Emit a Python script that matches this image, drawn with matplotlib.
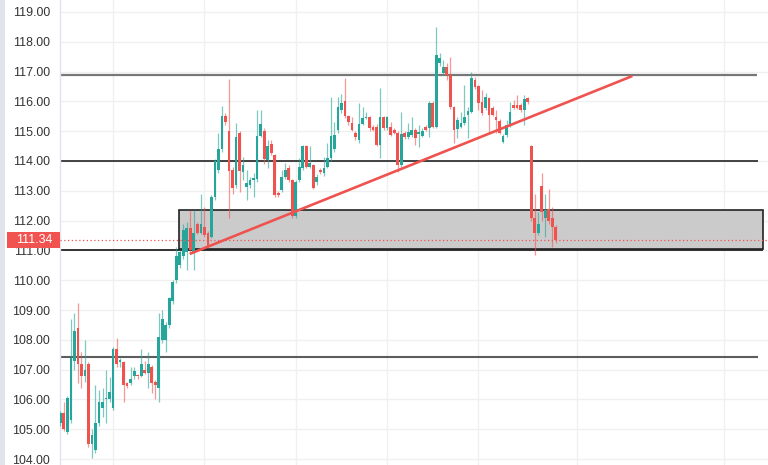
import matplotlib
matplotlib.use("Agg")
import matplotlib.pyplot as plt
from matplotlib.patches import Rectangle
from matplotlib.transforms import blended_transform_factory
import numpy as np

# ---- data (OHLC) ----
opens = [105.2,105.55,104.9,105.3,107.3,108.4,107.2,106.8,107.2,104.5,104.3,105.2,105.7,106.0,106.0,105.7,107.7,107.26,107.25,106.55,
         106.55,106.8,106.82,106.8,107.0,106.9,107.1,106.6,106.4,108.0,108.0,108.5,109.3,110.0,110.5,110.8,110.95,111.75,110.95,111.9,
         111.6,111.8,111.6,111.45,112.8,113.7,114.4,115.5,115.0,113.7,113.2,114.95,113.63,113.13,113.2,113.36,113.4,114.85,115.0,114.03,
         114.57,114.2,112.93,113.03,113.46,113.76,113.35,112.15,113.35,113.75,114.5,113.8,113.85,113.3,113.7,113.6,113.8,114.1,114.4,115.05,
         115.7,116.0,115.5,115.27,114.95,114.7,115.25,115.44,115.47,115.14,115.15,114.55,115.47,115.1,115.14,115.04,114.95,113.85,114.94,114.8,
         114.87,115.04,114.9,114.85,115.14,115.1,115.95,115.15,117.29,116.95,117.15,116.9,115.8,115.07,115.14,115.27,115.54,115.65,116.72,116.5,
         115.98,115.78,116.11,115.78,115.47,115.35,114.65,114.87,115.2,115.88,115.88,115.88,115.71,116.11,
         114.5,112.1,111.6,113.15,112.1,112.4,112.1,111.8]
highs = [105.6,105.9,106.1,108.7,108.9,109.25,107.6,108.0,107.25,105.0,106.5,106.3,106.4,107.0,106.75,107.75,108.05,107.4,107.3,106.6,
         107.1,107.1,106.85,107.7,107.3,107.6,107.15,106.65,108.9,109.0,108.6,109.45,110.0,111.1,111.0,111.9,111.95,112.35,112.35,111.95,
         112.9,112.45,111.65,112.86,114.05,114.94,115.85,115.6,116.75,113.8,115.27,115.0,114.13,113.7,113.45,113.6,115.71,115.7,115.1,114.7,
         114.7,114.25,113.0,113.7,113.93,113.87,113.4,113.35,114.1,114.55,114.55,114.5,113.9,113.55,113.75,114.13,114.6,116.15,115.3,116.15,
         116.25,116.8,115.55,115.47,115.0,115.95,115.8,115.64,115.5,115.2,115.25,116.45,115.5,115.5,115.3,115.1,115.0,115.65,115.0,115.27,
         115.47,115.1,115.2,115.1,115.2,116.0,116.0,118.5,117.62,117.39,117.29,117.5,115.85,115.48,115.64,116.55,115.81,116.99,116.82,116.55,
         116.38,116.28,116.15,115.85,115.71,115.4,114.9,115.38,115.98,116.05,116.21,115.95,116.21,116.15,
         114.55,112.9,112.3,113.6,112.9,113.06,112.46,111.85]
lows = [105.1,104.95,104.85,105.2,107.0,106.55,106.4,106.6,104.4,104.05,104.2,105.1,105.4,105.2,105.9,105.65,107.1,107.1,105.9,106.4,
        106.5,106.7,106.7,106.75,106.85,106.4,106.2,106.0,105.9,107.9,107.6,108.4,109.2,109.9,110.4,110.7,110.35,110.95,110.35,111.55,
        111.55,111.45,111.08,111.4,112.7,113.6,114.3,115.2,112.1,112.9,113.1,112.95,113.36,112.7,113.1,112.8,113.3,114.8,113.9,113.77,
        114.2,112.8,112.8,112.95,113.4,113.3,112.1,112.1,113.3,113.7,113.75,113.75,113.05,113.2,113.55,113.5,113.75,114.0,114.3,114.95,
        115.6,115.45,115.2,115.0,114.7,114.6,115.2,115.4,115.0,115.0,114.5,114.1,115.05,115.05,114.85,114.9,113.63,113.8,114.75,114.75,
        114.8,114.54,114.47,114.8,115.0,114.8,115.1,115.1,117.2,116.9,116.72,115.75,114.6,114.77,115.1,115.2,114.77,115.6,116.4,115.71,
        115.55,115.7,114.94,115.5,114.94,114.9,114.6,114.8,115.15,115.75,115.75,115.65,115.2,115.9,
        112.0,110.85,111.5,112.0,111.45,111.9,111.11,111.25]
closes = [105.55,105.0,106.05,107.4,108.3,107.2,106.8,107.0,104.5,104.8,105.2,105.9,105.9,106.05,106.25,107.7,107.2,107.33,106.5,106.45,
          106.7,106.95,106.78,107.2,106.9,107.2,106.55,106.5,108.1,108.7,108.5,109.4,109.95,110.8,110.95,111.7,111.75,111.0,111.6,111.6,
          111.9,111.5,111.1,112.8,114.0,114.4,115.5,115.3,113.65,113.1,114.8,113.65,113.87,113.26,113.36,113.43,114.85,115.25,114.05,114.5,
          114.27,112.85,112.86,113.46,113.7,113.36,112.15,113.3,113.8,114.5,113.8,113.93,113.1,113.46,113.63,113.76,114.1,114.85,114.87,115.8,
          115.95,115.5,115.3,115.04,114.8,115.25,115.45,115.47,115.1,115.04,114.55,115.47,115.1,115.47,114.87,114.94,113.85,114.9,114.8,114.97,
          115.04,114.77,114.97,115.0,115.04,115.95,115.14,117.55,117.45,117.15,116.89,115.8,115.05,115.38,115.27,115.47,115.68,116.8,116.48,115.95,
          115.6,116.15,115.54,115.54,115.38,114.95,114.85,115.2,115.64,115.78,115.78,115.71,116.08,115.98,
          112.1,111.6,111.9,112.3,112.35,112.0,111.8,111.34]

price_ticks = [104, 105, 106, 107, 108, 109, 110, 111, 112, 113, 114, 115, 116, 117, 118, 119]
time_grid = [15, 41, 67, 93, 119, 147, 189]
h_levels = [116.9, 114.0, 111.02, 107.43]
zone_top, zone_bottom = 112.36, 111.04
zone_start, zone_end = 33.7, 200.1
trend_x = [36.8, 162.8]
trend_y = [110.88, 116.85]
last_price = 111.34

UP = "#26a69a"
DOWN = "#ef5350"

W, H = 768, 465
fig = plt.figure(figsize=(W / 100, H / 100), dpi=100)
fig.patch.set_facecolor("white")
# left lavender strip
fig.patches.append(Rectangle((0, 0), 5 / W, 1, transform=fig.transFigure,
                             facecolor="#e0e3eb", edgecolor="none", zorder=0))

ax = fig.add_axes([60 / W, 0, 1 - 60 / W, 1])
ax.set_facecolor("white")

n = len(opens)
x = np.arange(n)
o = np.array(opens); c = np.array(closes); hi = np.array(highs); lo = np.array(lows)
up = c >= o
cols = np.where(up, UP, DOWN)

ax.set_xlim(-0.1, 201.4)
ax.set_ylim(103.80, 119.40)

# grid
for t in price_ticks:
    ax.axhline(t, color="#f0f0f0", lw=1.0, zorder=0)
for g in time_grid:
    ax.axvline(g, color="#f0f0f0", lw=1.0, zorder=0)

# zone
ax.add_patch(Rectangle((zone_start, zone_bottom), zone_end - zone_start, zone_top - zone_bottom,
                       facecolor="#cbcbcb", edgecolor="#222222", lw=1.2, zorder=1))

# horizontal levels
ax.hlines(h_levels[0], -0.1, 198.3, color="#777777", lw=1.6, zorder=2)
ax.hlines(h_levels[1], -0.1, 198.6, color="#111111", lw=1.1, zorder=2)
ax.hlines(h_levels[2], -0.1, 200.1, color="#222222", lw=1.3, zorder=2)
ax.hlines(h_levels[3], -0.1, 198.6, color="#5d5d5d", lw=1.5, zorder=2)

# candles
ax.vlines(x, lo, hi, colors=cols, lw=0.9, alpha=0.6, zorder=3)
body = np.maximum(np.abs(c - o), 0.04)
ax.bar(x, body, bottom=np.minimum(o, c), width=0.78, color=cols, edgecolor="none", zorder=4)

# last price dotted line
ax.axhline(last_price, color=DOWN, lw=0.9, ls=(0, (1, 2)), zorder=5)

# trend line
ax.plot(trend_x, trend_y, color="#ef5350", lw=1.9, solid_capstyle="butt", zorder=6)

# y axis
ax.set_xticks([])
ax.set_yticks(price_ticks)
ax.set_yticklabels([f"{t:.2f}" for t in price_ticks], fontsize=8.9,
                   color="#333333", family="Liberation Sans")
ax.tick_params(axis="y", length=0, pad=7)
for s in ["top", "right", "bottom"]:
    ax.spines[s].set_visible(False)
ax.spines["left"].set_color("#e0e3eb")
ax.spines["left"].set_linewidth(1.0)

# price label
tr = blended_transform_factory(ax.transAxes, ax.transData)
ax.add_patch(Rectangle((-53 / 708, last_price - 0.27), 53 / 708, 0.54, transform=tr,
                       facecolor="#f05350", edgecolor="none", clip_on=False, zorder=20))
ax.text(-8 / 708, last_price, f"{last_price:.2f}", transform=tr, ha="right", va="center",
        fontsize=8.9, color="white", family="Liberation Sans", zorder=21, clip_on=False)

fig.savefig("out.png", dpi=100, facecolor="white")
